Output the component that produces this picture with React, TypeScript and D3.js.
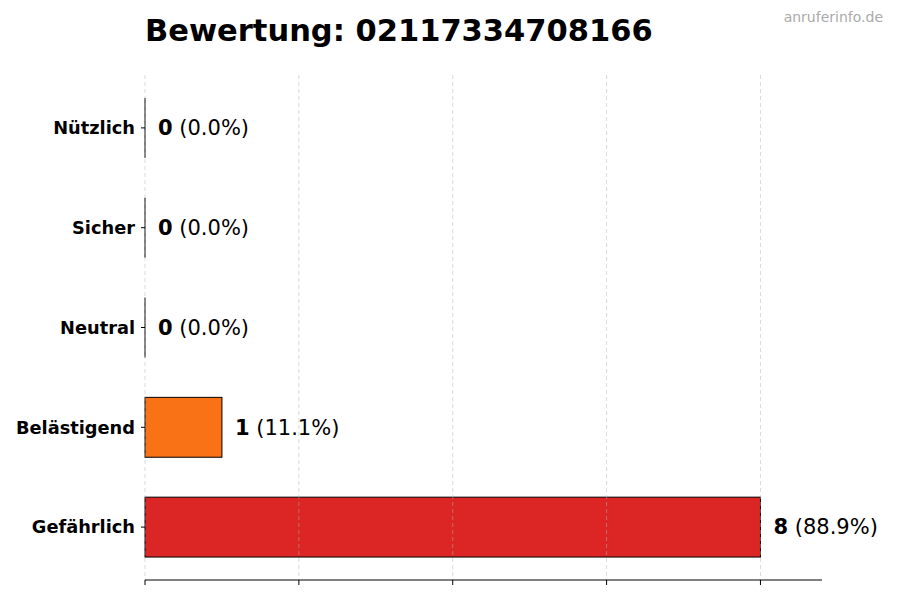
import React from "react";
import * as d3 from "d3";

const categories = ["Nützlich", "Sicher", "Neutral", "Belästigend", "Gefährlich"];
const counts = [0, 0, 0, 1, 8];
const percents = ["0.0%", "0.0%", "0.0%", "11.1%", "88.9%"];
const barColors = ["#16a34a", "#2563eb", "#9ca3af", "#f97316", "#dc2626"];
const xTicks = [0, 2, 4, 6, 8];
const titleText = "Bewertung: 02117334708166";
const watermark = "anruferinfo.de";

const W = 900;
const H = 600;
const left = 145;
const right = 822;
const top = 75;
const bottom = 580;
const font = "'DejaVu Sans', sans-serif";

export default function App() {
  const x = d3.scaleLinear().domain([0, 8.8]).range([left, right]);
  // matplotlib-like category axis: -0.53 .. 4.53 (top to bottom)
  const y = d3.scaleLinear().domain([-0.53, 4.53]).range([top, bottom]);
  const barH = 0.6;

  return (
    <svg
      width={W}
      height={H}
      style={{ position: "absolute", left: 0, top: 0, background: "#fff" }}
      fontFamily={font}
    >
      <text x={left} y={41} fontSize={30.5} fontWeight="bold" fill="#000">
        {titleText}
      </text>
      <text x={883} y={22} fontSize={14} fill="#aaaaaa" textAnchor="end">
        {watermark}
      </text>

      {categories.map((c, i) => {
        const y0 = y(i - barH / 2);
        const y1 = y(i + barH / 2);
        const xv = x(counts[i]);
        return counts[i] === 0 ? (
          <line key={c} x1={x(0)} x2={x(0)} y1={y0} y2={y1} stroke="#000" strokeWidth={1} />
        ) : (
          <rect
            key={c}
            x={x(0)}
            y={y0}
            width={xv - x(0)}
            height={y1 - y0}
            fill={barColors[i]}
            stroke="#000"
            strokeWidth={1}
          />
        );
      })}

      {xTicks.map((t) => (
        <line
          key={"g" + t}
          x1={x(t)}
          x2={x(t)}
          y1={top}
          y2={bottom}
          stroke="#b0b0b0"
          strokeOpacity={0.6}
          strokeWidth={0.8}
          strokeDasharray="4,3"
        />
      ))}

      {categories.map((c, i) => {
        const yc = y(i);
        const xv = x(counts[i]);
        return (
          <g key={"l" + c}>
            <line x1={left - 4} x2={left} y1={yc} y2={yc} stroke="#000" strokeWidth={1} />
            <text
              x={left - 10}
              y={yc}
              dy="0.35em"
              textAnchor="end"
              fontSize={17.8}
              fontWeight="bold"
              fill="#000"
            >
              {c}
            </text>
            <text x={xv + 13} y={yc} dy="0.35em" fontSize={21} fill="#000">
              <tspan fontWeight="bold">{counts[i]}</tspan>
              <tspan>{` (${percents[i]})`}</tspan>
            </text>
          </g>
        );
      })}

      <line x1={left} x2={right} y1={bottom} y2={bottom} stroke="#000" strokeWidth={1} />
      {xTicks.map((t) => (
        <line key={"t" + t} x1={x(t)} x2={x(t)} y1={bottom} y2={bottom + 5} stroke="#000" strokeWidth={1} />
      ))}
    </svg>
  );
}
